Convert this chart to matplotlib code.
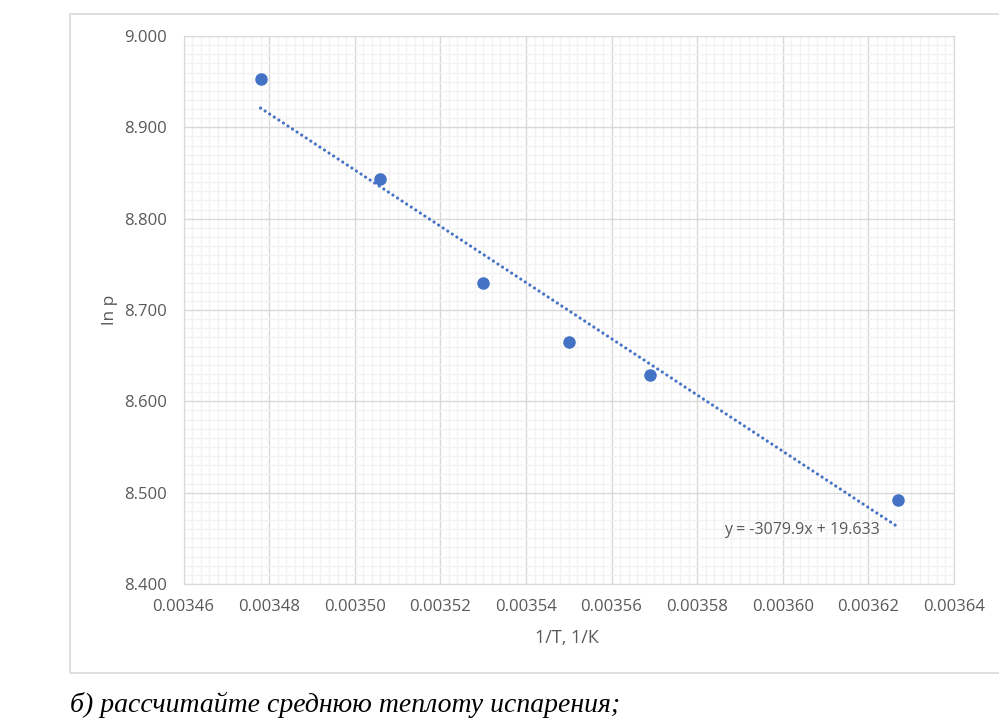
import numpy as np
import matplotlib.pyplot as plt
from matplotlib.patches import Rectangle
from matplotlib.ticker import MultipleLocator, FormatStrFormatter

# data
inv_T = [0.003478, 0.003506, 0.003530, 0.003550, 0.003569, 0.003627]
ln_p = [8.953, 8.843, 8.730, 8.665, 8.629, 8.492]

# trendline shown on the chart
slope = -3079.9
intercept = 19.633

blue = '#4472C4'
grey_txt = '#595959'

plt.rcParams['font.family'] = ['Open Sans', 'DejaVu Sans']

fig = plt.figure(figsize=(9.99, 7.21), dpi=100)

# chart frame
fig.patches.append(Rectangle((70 / 999, 1 - 673 / 721), 1.0, (673 - 14) / 721,
                             transform=fig.transFigure, fill=False,
                             edgecolor='#D9D9D9', linewidth=1.2, zorder=0))

ax = fig.add_axes([183.5 / 999, 1 - 584 / 721, 770.5 / 999, 548 / 721])

ax.set_xlim(0.00346, 0.00364)
ax.set_ylim(8.4, 9.0)
ax.xaxis.set_major_locator(MultipleLocator(0.00002))
ax.xaxis.set_minor_locator(MultipleLocator(0.000002))
ax.yaxis.set_major_locator(MultipleLocator(0.1))
ax.yaxis.set_minor_locator(MultipleLocator(0.01))
ax.xaxis.set_major_formatter(FormatStrFormatter('%.5f'))
ax.yaxis.set_major_formatter(FormatStrFormatter('%.3f'))

ax.grid(which='minor', color='#F2F2F2', linewidth=1.0)
ax.grid(which='major', color='#D9D9D9', linewidth=1.0)
ax.set_axisbelow(True)
for s in ax.spines.values():
    s.set_color('#D9D9D9')
ax.tick_params(which='both', length=0, labelsize=12, labelcolor=grey_txt)
ax.tick_params(axis='y', pad=12)
ax.tick_params(axis='x', pad=11)

xs = np.array([min(inv_T), max(inv_T)])
ax.plot(xs, slope * xs + intercept, linestyle=(0, (0.01, 1.7)), color=blue,
        linewidth=2.3, dash_capstyle='round', zorder=2)
ax.plot(inv_T, ln_p, 'o', color=blue, markersize=8, zorder=3)

ax.text(0.0036227, 8.459, 'y = -3079.9x + 19.633', ha='right', va='center',
        fontsize=11.5, color=grey_txt)

fig.text(110 / 999, 1 - 310 / 721, 'ln p', rotation=90, ha='center', va='center',
         fontsize=12.5, color=grey_txt)
fig.text(567 / 999, 1 - 638 / 721, '1/T, 1/К', ha='center', va='center',
         fontsize=13, color=grey_txt)

fig.text(70 / 999, 1 - 705 / 721, 'б) рассчитайте среднюю теплоту испарения;',
         ha='left', va='center', fontsize=20, style='italic',
         family=['Liberation Serif', 'DejaVu Serif'], color='black')

fig.savefig('out.png', dpi=100)
